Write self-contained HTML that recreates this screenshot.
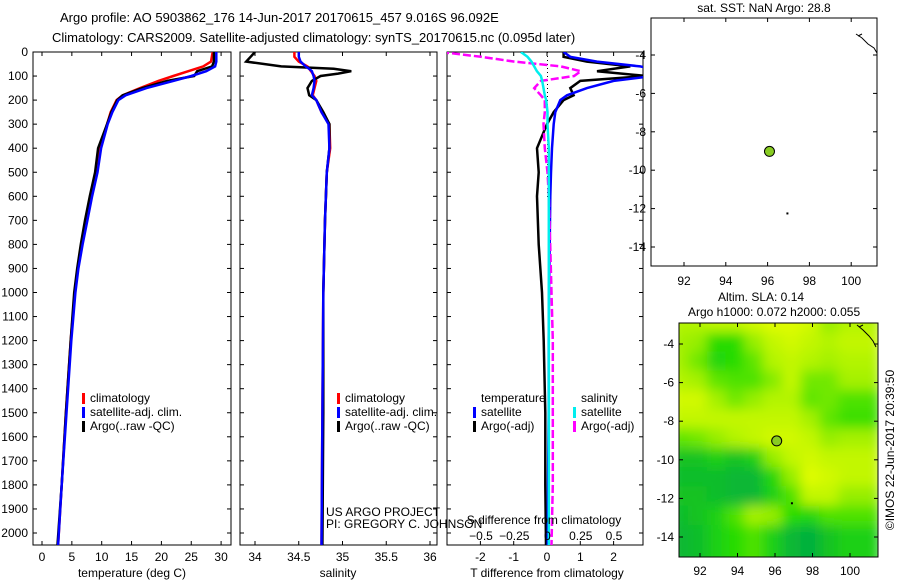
<!DOCTYPE html>
<html><head><meta charset="utf-8"><style>
body{margin:0;background:#fff}
svg{font-family:"Liberation Sans",sans-serif;font-size:12px}
</style></head><body>
<svg id="c" width="900" height="580" viewBox="0 0 900 580">
<defs><filter id="bl" x="0" y="0" width="100%" height="100%"><feGaussianBlur stdDeviation="6"/></filter>
<clipPath id="cp1"><rect x="33" y="52" width="198" height="493"/></clipPath>
<clipPath id="cp2"><rect x="240" y="52" width="197" height="493"/></clipPath>
<clipPath id="cp3"><rect x="447" y="52" width="196" height="493"/></clipPath>
<clipPath id="cpm"><rect x="679" y="323" width="199" height="234"/></clipPath></defs>
<text x="60" y="22" font-size="13">Argo profile: AO 5903862_176 14-Jun-2017 20170615_457 9.016S 96.092E</text>
<text x="52" y="42" font-size="13">Climatology: CARS2009. Satellite-adjusted climatology: synTS_20170615.nc (0.095d later)</text>
<g id="g"></g>
</svg>
<script>
// Temperature profiles
const tDepth=[0,40,60,80,100,120,150,180,200,250,300,400,500,600,700,800,900,1000,1200,1500,1800,2050];
const tClim=[28.6,28.3,27,24.5,22,19.5,16.4,13.5,12.5,11.5,10.9,9.7,9.0,8.2,7.4,6.6,6.0,5.5,4.8,4.0,3.3,2.7];
const tSat=[29.2,29.2,29.0,27.5,25,22,17.5,14,12.8,11.8,11.0,9.9,9.3,8.4,7.6,6.8,6.1,5.6,4.9,4.1,3.3,2.7];
const tArgo=[28.8,28.8,28.5,26,25.5,21,16.8,13.5,12.6,11.6,10.9,9.4,8.9,8.0,7.2,6.5,5.9,5.4,4.8,4.0,3.3,2.6];
// Salinity profiles
const sDepth=[0,20,40,60,70,80,90,100,120,150,180,200,250,300,400,500,700,1000,1500,2050];
const sClim=[34.45,34.45,34.5,34.6,34.62,34.64,34.66,34.68,34.7,34.68,34.66,34.7,34.76,34.85,34.86,34.82,34.8,34.78,34.77,34.76];
const sSat=[34.5,34.5,34.52,34.58,34.62,34.65,34.66,34.67,34.68,34.67,34.65,34.7,34.76,34.84,34.85,34.82,34.8,34.78,34.77,34.76];
const sArgo=[34.0,33.95,33.9,34.3,34.9,35.1,34.95,34.75,34.65,34.6,34.62,34.7,34.78,34.85,34.85,34.82,34.8,34.78,34.78,34.77];
// Differences
const dDepth=[0,20,40,60,80,100,120,150,180,200,250,300,400,500,600,800,1000,1200,1500,1800,2050];
const dTSat=[0.5,0.7,1.5,2.8,3.5,3.2,2.0,1.2,0.6,0.4,0.25,0.2,0.15,0.12,0.1,0.08,0.06,0.05,0.05,0.03,0.02];
const dTArgo=[0.5,0.5,1.2,2.5,1.5,3.0,1.0,0.7,0.8,0.5,0.2,0,-0.3,-0.25,-0.3,-0.25,-0.15,-0.1,-0.05,-0.05,-0.03];
const dSArgo=[-0.8,-0.5,-0.25,0.1,0.25,0.2,-0.05,-0.1,-0.05,-0.02,-0.02,-0.03,-0.02,0,0.01,0.02,0.03,0.04,0.04,0.04,0.03];
const dSSat=[-0.2,-0.15,-0.12,-0.1,-0.08,-0.05,-0.04,-0.03,-0.02,-0.01,0,0,0.01,0.01,0.01,0.01,0.01,0.01,0.01,0.01,0.01];
const depthTicks=[0,100,200,300,400,500,600,700,800,900,1000,1100,1200,1300,1400,1500,1600,1700,1800,1900,2000];
const tTicks=[0,5,10,15,20,25,30];
const sTicks=[34,34.5,35,35.5,36];
const dtTicks=[-2,-1,0,1,2];
const dsTicks=[-0.5,-0.25,0,0.25,0.5];
const lonTicks=[92,94,96,98,100];
const latTicks=[-4,-6,-8,-10,-12,-14];
// SLA map grid (0=dark green .. 1=yellow), rows from -3 to -15, cols 91..101
const sla=[
[0.8,0.8,0.85,0.85,0.9,0.95,0.95,0.9,0.7,0.8],
[0.75,0.7,0.4,0.4,0.7,0.85,0.9,0.85,0.8,0.85],
[0.75,0.6,0.35,0.4,0.55,0.8,0.85,0.8,0.75,0.8],
[0.8,0.75,0.55,0.5,0.5,0.65,0.85,0.6,0.6,0.75],
[0.9,0.9,0.75,0.6,0.7,0.8,0.8,0.55,0.6,0.5],
[0.85,0.85,0.85,0.85,0.85,0.85,0.85,0.75,0.55,0.45],
[0.55,0.6,0.7,0.8,0.85,0.9,0.9,0.85,0.7,0.75],
[0.2,0.2,0.3,0.2,0.3,0.7,0.85,0.9,0.85,0.85],
[0.15,0.15,0.15,0.1,0.1,0.35,0.7,0.95,0.9,0.85],
[0.2,0.2,0.15,0.1,0.1,0.3,0.5,0.85,0.85,0.7],
[0.15,0.2,0.3,0.5,0.75,0.7,0.4,0.35,0.5,0.5],
[0.1,0.15,0.3,0.4,0.5,0.3,0.1,0.05,0.2,0.3]];
const floatLon=96.09, floatLat=-9.02;

const NS='http://www.w3.org/2000/svg';
const G=document.getElementById('g');
function el(t,a,p){const e=document.createElementNS(NS,t);for(const k in a)e.setAttribute(k,a[k]);(p||G).appendChild(e);return e;}
const yD=d=>52+d*0.2405;
const xT=v=>42+v*5.97;
const xS=v=>255+(v-34)*87.5;
const xDT=v=>547+v*33.3;
const xDS=v=>547.5+v*133;

function frame(x,y,w,h,name){const r=el('rect',{x:x,y:y,width:w,height:h,fill:'none',stroke:'#000','stroke-width':1});}
function depthTicksFn(x0,x1){depthTicks.forEach(d=>{const y=yD(d);el('line',{x1:x0,x2:x0+4,y1:y,y2:y,stroke:'#000'});el('line',{x1:x1-4,x2:x1,y1:y,y2:y,stroke:'#000'});});}
function xticks(vals,fx,y0,y1,ly,labels){vals.forEach((v,i)=>{const x=fx(v);el('line',{x1:x,x2:x,y1:y1-4,y2:y1,stroke:'#000'});el('line',{x1:x,x2:x,y1:y0,y2:y0+4,stroke:'#000'});if(labels){const t=el('text',{x:x,y:ly,'text-anchor':'middle'});t.textContent=labels[i];}});}
function line(xs,ds,fx,col,w,cp,name,dash){const pts=xs.map((v,i)=>fx(v).toFixed(1)+','+yD(ds[i]).toFixed(1)).join(' ');const a={points:pts,fill:'none',stroke:col,'stroke-width':w,'clip-path':'url(#'+cp+')'};if(dash)a['stroke-dasharray']=dash;const p=el('polyline',a);}
function txt(x,y,s,name,anchor,extra){const t=el('text',Object.assign({x:x,y:y,'text-anchor':anchor||'start'},extra||{}));t.textContent=s;return t;}
function legMark(x,y,col){el('rect',{x:x,y:y-9,width:3,height:11,fill:col});}

// Panel 1
frame(33,52,198,493,'temperature-panel');
depthTicksFn(33,231);
depthTicks.forEach(d=>{txt(28,yD(d)+4,String(d),'depth-tick-label','end');});
xticks(tTicks,xT,52,545,561,tTicks.map(String));
line(tClim,tDepth,xT,'#f00',2.5,'cp1','temp-climatology-line');
line(tArgo,tDepth,xT,'#000',2.5,'cp1','temp-argo-line');
line(tSat,tDepth,xT,'#00f',2.5,'cp1','temp-satellite-line');
txt(132,577,'temperature (deg C)','temperature-axis-title','middle');
legMark(82,402,'#f00');txt(90,402,'climatology','legend-climatology');
legMark(82,416,'#00f');txt(90,416,'satellite-adj. clim.','legend-satellite');
legMark(82,430,'#000');txt(90,430,'Argo(..raw -QC)','legend-argo');

// Panel 2
frame(240,52,197,493,'salinity-panel');
depthTicksFn(240,437);
xticks(sTicks,xS,52,545,561,['34','34.5','35','35.5','36']);
line(sClim,sDepth,xS,'#f00',2.5,'cp2','sal-climatology-line');
line(sArgo,sDepth,xS,'#000',2.5,'cp2','sal-argo-line');
line(sSat,sDepth,xS,'#00f',2.5,'cp2','sal-satellite-line');
txt(338,577,'salinity','salinity-axis-title','middle');
legMark(337,402,'#f00');txt(345,402,'climatology','legend-climatology-2');
legMark(337,416,'#00f');txt(345,416,'satellite-adj. clim.','legend-satellite-2');
legMark(337,430,'#000');txt(345,430,'Argo(..raw -QC)','legend-argo-2');
txt(326,516,'US ARGO PROJECT','project-label');
txt(326,528,'PI: GREGORY C. JOHNSON','pi-label');

// Panel 3
frame(447,52,196,493,'difference-panel');
depthTicksFn(447,643);
xticks(dtTicks,xDT,52,545,561,dtTicks.map(String));
el('line',{x1:547.5,x2:547.5,y1:52,y2:200,stroke:'#000','stroke-dasharray':'1,3'});
line(dTArgo,dDepth,xDT,'#000',2.5,'cp3','tdiff-argo-line');
line(dTSat,dDepth,xDT,'#00f',2.5,'cp3','tdiff-satellite-line');
line(dSArgo,dDepth,xDS,'#f0f',2.5,'cp3','sdiff-argo-line','8,3');
line(dSSat,dDepth,xDS,'#0ee',2.5,'cp3','sdiff-satellite-line');
dsTicks.forEach(v=>{txt(xDS(v),540,String(v).replace('-','\u2212'),'s-diff-tick-label','middle');});
txt(481,402,'temperature','legend-temperature-header');
txt(581,402,'salinity','legend-salinity-header');
legMark(473,416,'#00f');txt(481,416,'satellite','legend-t-satellite');
legMark(473,430,'#000');txt(481,430,'Argo(-adj)','legend-t-argo');
legMark(573,416,'#0ee');txt(581,416,'satellite','legend-s-satellite');
legMark(573,430,'#f0f');txt(581,430,'Argo(-adj)','legend-s-argo');
txt(544,524,'S difference from climatology','s-diff-axis-title','middle');
txt(547,577,'T difference from climatology','t-diff-axis-title','middle');

// Map 1 (SST)
const m1x=lo=>684+(lo-92)*20.9, m1y=la=>55+(-4-la)*19.2;
frame(651,18,226,248,'sst-map');
lonTicks.forEach(lo=>{const x=m1x(lo);el('line',{x1:x,x2:x,y1:262,y2:266,stroke:'#000'});el('line',{x1:x,x2:x,y1:18,y2:22,stroke:'#000'});txt(x,285,String(lo),'sst-lon-label','middle');});
latTicks.forEach(la=>{const y=m1y(la);el('line',{x1:651,x2:655,y1:y,y2:y,stroke:'#000'});el('line',{x1:873,x2:877,y1:y,y2:y,stroke:'#000'});txt(646,y+4,String(la),'sst-lat-label','end');});
txt(764,12,'sat. SST: NaN Argo: 28.8','sst-title','middle');
el('path',{d:'M856,34 l6,4 l6,6 l6,4 l3,5 M858,36 l4,-2',fill:'none',stroke:'#000','stroke-width':1});
const c1=el('circle',{cx:m1x(floatLon),cy:m1y(floatLat),r:5,fill:'#8c2',stroke:'#000'});

el('rect',{x:m1x(96.9),y:m1y(-12.2),width:2,height:2,fill:'#000'});

// Map 2 (SLA)
const m2x=lo=>700+(lo-92)*18.75, m2y=la=>344+(-4-la)*19.3;
function slaCol(v){const stops=[[0,[0,170,70]],[0.4,[40,220,0]],[0.7,[150,238,0]],[1,[238,255,0]]];for(let i=1;i<stops.length;i++){if(v<=stops[i][0]){const a=stops[i-1],b=stops[i],t=(v-a[0])/(b[0]-a[0]);return 'rgb('+a[1].map((c,j)=>Math.round(c+(b[1][j]-c)*t)).join(',')+')';}}return 'rgb(238,255,0)';}
const hm=el('g',{'clip-path':'url(#cpm)'});
const hb=el('g',{filter:'url(#bl)'},hm);
sla.forEach((row,r)=>row.forEach((v,c)=>{const x0=m2x(91+c)-12,y0=m2y(-3-r)-12;const cell=el('rect',{x:x0,y:y0,width:m2x(92+c)-m2x(91+c)+24,height:m2y(-4-r)-m2y(-3-r)+24,fill:slaCol(v)},hb);}));
frame(679,323,199,234,'sla-map');
lonTicks.forEach(lo=>{const x=m2x(lo);el('line',{x1:x,x2:x,y1:553,y2:557,stroke:'#000'});el('line',{x1:x,x2:x,y1:323,y2:327,stroke:'#000'});txt(x,575,String(lo),'sla-lon-label','middle');});
latTicks.forEach(la=>{const y=m2y(la);el('line',{x1:679,x2:683,y1:y,y2:y,stroke:'#000'});el('line',{x1:874,x2:878,y1:y,y2:y,stroke:'#000'});txt(674,y+4,String(la),'sla-lat-label','end');});
txt(718,301,'Altim. SLA: 0.14','sla-title');
txt(688,316,'Argo h1000: 0.072 h2000: 0.055','sla-subtitle');
el('path',{d:'M857,325 l6,5 l6,6 l4,5 l3,6 M859,327 l4,-2',fill:'none',stroke:'#000','stroke-width':1});
const c2=el('circle',{cx:m2x(floatLon),cy:m2y(floatLat),r:5,fill:'#8c2',stroke:'#000'});

el('rect',{x:m2x(96.85),y:m2y(-12.2),width:2,height:2,fill:'#000'});
txt(894,450,'\u00a9IMOS 22-Jun-2017 20:39:50','imos-timestamp','middle',{transform:'rotate(-90 894 450)'});
</script>
</body></html>
